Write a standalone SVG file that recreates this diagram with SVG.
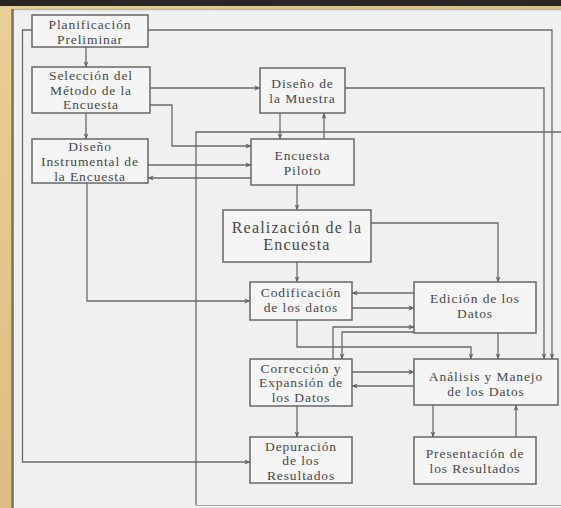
<svg xmlns="http://www.w3.org/2000/svg" width="561" height="508" viewBox="0 0 561 508">
<defs>
<marker id="ah" viewBox="0 0 8 8" refX="7.5" refY="4" markerWidth="6" markerHeight="6" markerUnits="userSpaceOnUse" orient="auto">
<path d="M0,0.8 L8,4 L0,7.2 L2,4 Z" fill="#666"/>
</marker>
<linearGradient id="gold" x1="0" y1="0" x2="1" y2="1">
<stop offset="0" stop-color="#e9cf98"/>
<stop offset="0.5" stop-color="#dcbd82"/>
<stop offset="1" stop-color="#e6c890"/>
</linearGradient>
</defs>
<style>
.box{fill:#f5f5f5;stroke:#666;stroke-width:1.5}
.t{font-family:"Liberation Serif","Times New Roman",serif;font-size:13.5px;fill:#484848;text-anchor:middle;letter-spacing:0.9px}
.big{font-size:16px;letter-spacing:1.2px}
.c{fill:none;stroke:#6a6a6a;stroke-width:1.3}
.ca{fill:none;stroke:#6a6a6a;stroke-width:1.3;marker-end:url(#ah)}
</style>
<rect x="0" y="0" width="561" height="508" fill="url(#gold)"/>
<rect x="0" y="0" width="561" height="6" fill="#2b2620"/>
<rect x="11" y="9" width="550" height="499" fill="#f0f0f0"/>
<line x1="11" y1="9.5" x2="561" y2="9.5" stroke="#b8b8b8" stroke-width="1.5"/>
<line x1="12.5" y1="9" x2="12.5" y2="508" stroke="#6f6f6f" stroke-width="2.5"/>

<g id="connectors">
<path class="ca" d="M86,47 V67"/>
<path class="ca" d="M86,113 V139"/>
<path class="ca" d="M150,88 H260"/>
<path class="ca" d="M150,105 H172 V146 H251"/>
<path class="ca" d="M148,165 H251"/>
<path class="ca" d="M251,178 H148"/>
<path class="ca" d="M280,113 V139"/>
<path class="ca" d="M324,139 V113"/>
<path class="ca" d="M297,185 V210"/>
<path class="ca" d="M371,223 H498 V282"/>
<path class="ca" d="M297,262 V282"/>
<path class="ca" d="M87,183 V301 H250"/>
<path class="ca" d="M414,293 H352"/>
<path class="ca" d="M352,308 H414"/>
<path class="ca" d="M333,359 V327 H414"/>
<path class="ca" d="M414,332 H342 V359"/>
<path class="ca" d="M297,320 V347 H471 V359"/>
<path class="ca" d="M498,333 V359"/>
<path class="ca" d="M352,372 H414"/>
<path class="ca" d="M414,386 H352"/>
<path class="ca" d="M297,406 V437"/>
<path class="ca" d="M433,405 V437"/>
<path class="ca" d="M516,437 V405"/>
<path class="ca" d="M148,30 H552 V359"/>
<path class="ca" d="M345,88 H544 V359"/>
<path class="ca" d="M32,30 H22.5 V462 H250"/>
<path class="c" d="M561,132 H196 V505"/>
<path d="M196,505.5 H561" fill="none" stroke="#a8a8a8" stroke-width="1"/>
</g>

<g id="planificacion">
<rect class="box" x="32" y="15" width="116" height="32"/>
<text class="t" x="90" y="28.5">Planificación</text>
<text class="t" x="90" y="43.5">Preliminar</text>
</g>
<g id="seleccion">
<rect class="box" x="32" y="67" width="118" height="46"/>
<text class="t" x="91" y="80">Selección del</text>
<text class="t" x="91" y="94.5">Método de la</text>
<text class="t" x="91" y="109">Encuesta</text>
</g>
<g id="diseno-instrumental">
<rect class="box" x="32" y="139" width="116" height="44"/>
<text class="t" x="90" y="151">Diseño</text>
<text class="t" x="90" y="166">Instrumental de</text>
<text class="t" x="90" y="181">la Encuesta</text>
</g>
<g id="diseno-muestra">
<rect class="box" x="260" y="68" width="85" height="45"/>
<text class="t" x="302.5" y="88">Diseño de</text>
<text class="t" x="302.5" y="103">la Muestra</text>
</g>
<g id="encuesta-piloto">
<rect class="box" x="251" y="139" width="103" height="46"/>
<text class="t" x="302.5" y="159.5">Encuesta</text>
<text class="t" x="302.5" y="174.5">Piloto</text>
</g>
<g id="realizacion">
<rect class="box" x="223" y="210" width="148" height="52"/>
<text class="t big" x="297" y="233">Realización de la</text>
<text class="t big" x="297" y="250">Encuesta</text>
</g>
<g id="codificacion">
<rect class="box" x="250" y="282" width="102" height="38"/>
<text class="t" x="301" y="296.5">Codificación</text>
<text class="t" x="301" y="311.5">de los datos</text>
</g>
<g id="edicion">
<rect class="box" x="414" y="282" width="122" height="51"/>
<text class="t" x="475" y="303">Edición de los</text>
<text class="t" x="475" y="318">Datos</text>
</g>
<g id="correccion">
<rect class="box" x="250" y="359" width="102" height="47"/>
<text class="t" x="301" y="372.5">Corrección y</text>
<text class="t" x="301" y="387">Expansión de</text>
<text class="t" x="301" y="401.5">los Datos</text>
</g>
<g id="analisis">
<rect class="box" x="414" y="359" width="144" height="46"/>
<text class="t" x="486" y="380.5">Análisis y Manejo</text>
<text class="t" x="486" y="395.5">de los Datos</text>
</g>
<g id="depuracion">
<rect class="box" x="250" y="437" width="102" height="46"/>
<text class="t" x="301" y="450.5">Depuración</text>
<text class="t" x="301" y="465">de los</text>
<text class="t" x="301" y="479.5">Resultados</text>
</g>
<g id="presentacion">
<rect class="box" x="414" y="437" width="122" height="47"/>
<text class="t" x="475" y="458">Presentación de</text>
<text class="t" x="475" y="473">los Resultados</text>
</g>
</svg>
